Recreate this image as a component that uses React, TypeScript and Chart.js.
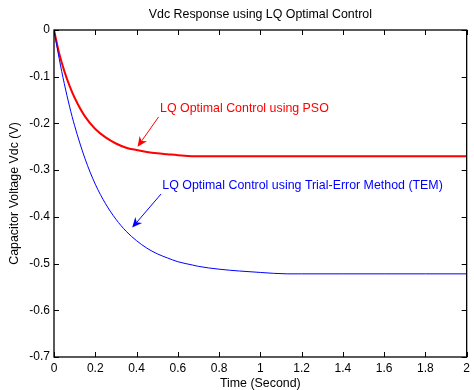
import React, { useEffect, useRef } from "react";
import { Chart, registerables } from "chart.js";

Chart.register(...registerables);

// ---- data ----
const timeSec = [0, 0.025, 0.05, 0.075, 0.1, 0.15, 0.2, 0.25, 0.3, 0.35, 0.4, 0.45, 0.5, 0.55, 0.6, 0.67, 0.7, 0.8, 0.9, 1.0, 1.13, 1.2, 1.4, 1.6, 1.8, 2.0];
const psoVdc = [0, -0.05, -0.088, -0.119, -0.145, -0.185, -0.212, -0.23, -0.243, -0.252, -0.257, -0.261, -0.264, -0.266, -0.268, -0.27, -0.27, -0.27, -0.27, -0.27, -0.27, -0.27, -0.27, -0.27, -0.27, -0.27];
const temVdc = [0, -0.061, -0.115, -0.163, -0.205, -0.275, -0.33, -0.372, -0.405, -0.431, -0.451, -0.467, -0.479, -0.488, -0.496, -0.503, -0.506, -0.512, -0.516, -0.519, -0.522, -0.522, -0.522, -0.522, -0.522, -0.522];

const xTickValues = [0, 0.2, 0.4, 0.6, 0.8, 1, 1.2, 1.4, 1.6, 1.8, 2];
const yTickValues = [0, -0.1, -0.2, -0.3, -0.4, -0.5, -0.6, -0.7];

const chartTitle = "Vdc Response using LQ Optimal Control";
const xTitle = "Time (Second)";
const yTitle = "Capacitor Voltage Vdc (V)";
const psoLabel = "LQ Optimal Control using PSO";
const temLabel = "LQ Optimal Control using Trial-Error Method (TEM)";

// annotation anchors in data units (text start, arrow tail, arrow tip)
const psoNote = { text: [0.514, -0.168], tail: [0.507, -0.186], tip: [0.405, -0.25] };
const temNote = { text: [0.525, -0.332], tail: [0.519, -0.351], tip: [0.379, -0.423] };

const FONT = "'Liberation Sans', Arial, Helvetica, sans-serif";

function fmt(v: number): string {
  return String(Number(Number(v).toFixed(2)));
}

function drawArrow(ctx: CanvasRenderingContext2D, x1: number, y1: number, x2: number, y2: number, color: string) {
  const ang = Math.atan2(y2 - y1, x2 - x1);
  const headLen = 10;
  const halfW = 4.5;
  const notch = 7;
  const bx = x2 - notch * Math.cos(ang);
  const by = y2 - notch * Math.sin(ang);
  ctx.save();
  ctx.strokeStyle = color;
  ctx.fillStyle = color;
  ctx.lineWidth = 1;
  ctx.beginPath();
  ctx.moveTo(x1, y1);
  ctx.lineTo(bx, by);
  ctx.stroke();
  const hx = x2 - headLen * Math.cos(ang);
  const hy = y2 - headLen * Math.sin(ang);
  const px = -Math.sin(ang);
  const py = Math.cos(ang);
  ctx.beginPath();
  ctx.moveTo(x2, y2);
  ctx.lineTo(hx + px * halfW, hy + py * halfW);
  ctx.lineTo(bx, by);
  ctx.lineTo(hx - px * halfW, hy - py * halfW);
  ctx.closePath();
  ctx.fill();
  ctx.restore();
}

const decorPlugin = {
  id: "decor",
  afterDraw(chart: any) {
    const { ctx, chartArea, scales } = chart;
    const xs = scales.x;
    const ys = scales.y;
    const { left, right, top, bottom } = chartArea;
    ctx.save();
    // box
    ctx.strokeStyle = "#000";
    ctx.lineWidth = 1.3;
    ctx.strokeRect(left, top, right - left, bottom - top);
    // inward ticks
    const tl = 5;
    ctx.lineWidth = 1;
    ctx.beginPath();
    for (const v of xTickValues) {
      const x = Math.round(xs.getPixelForValue(v)) + 0.5;
      ctx.moveTo(x, bottom);
      ctx.lineTo(x, bottom - tl);
      ctx.moveTo(x, top);
      ctx.lineTo(x, top + tl);
    }
    for (const v of yTickValues) {
      const y = Math.round(ys.getPixelForValue(v)) + 0.5;
      ctx.moveTo(left, y);
      ctx.lineTo(left + tl, y);
      ctx.moveTo(right, y);
      ctx.lineTo(right - tl, y);
    }
    ctx.stroke();

    // titles
    ctx.fillStyle = "#000";
    ctx.font = `12.4px ${FONT}`;
    ctx.textAlign = "center";
    ctx.textBaseline = "middle";
    const cx = (left + right) / 2;
    ctx.fillText(chartTitle, cx, 15);
    ctx.fillText(xTitle, cx, 384);
    ctx.save();
    ctx.translate(15, (top + bottom) / 2);
    ctx.rotate(-Math.PI / 2);
    ctx.fillText(yTitle, 0, 0);
    ctx.restore();

    // annotations
    const notes = [
      { n: psoNote, label: psoLabel, color: "#ff0000" },
      { n: temNote, label: temLabel, color: "#0000ff" },
    ];
    for (const { n, label, color } of notes) {
      ctx.fillStyle = color;
      ctx.textAlign = "left";
      ctx.textBaseline = "middle";
      ctx.fillText(label, xs.getPixelForValue(n.text[0]), ys.getPixelForValue(n.text[1]));
      drawArrow(
        ctx,
        xs.getPixelForValue(n.tail[0]),
        ys.getPixelForValue(n.tail[1]),
        xs.getPixelForValue(n.tip[0]),
        ys.getPixelForValue(n.tip[1]),
        color
      );
    }
    ctx.restore();
  },
};

export default function App() {
  const ref = useRef<HTMLCanvasElement | null>(null);
  useEffect(() => {
    if (!ref.current) return;
    Chart.defaults.font.family = FONT;
    Chart.defaults.font.size = 12;
    Chart.defaults.color = "#000";
    const chart = new Chart(ref.current, {
      type: "line",
      data: {
        datasets: [
          {
            label: "TEM",
            data: timeSec.map((t, i) => ({ x: t, y: temVdc[i] })),
            borderColor: "#0000ff",
            borderWidth: 1,
            pointRadius: 0,
            cubicInterpolationMode: "monotone",
          },
          {
            label: "PSO",
            data: timeSec.map((t, i) => ({ x: t, y: psoVdc[i] })),
            borderColor: "#ff0000",
            borderWidth: 2,
            pointRadius: 0,
            cubicInterpolationMode: "monotone",
          },
        ],
      },
      options: {
        animation: false,
        responsive: false,
        devicePixelRatio: 1,
        layout: { padding: { top: 30, right: 5, left: 0, bottom: 0 } },
        plugins: { legend: { display: false }, title: { display: false }, tooltip: { enabled: false } },
        scales: {
          x: {
            type: "linear",
            min: 0,
            max: 2,
            afterBuildTicks: (s: any) => {
              s.ticks = xTickValues.map((v) => ({ value: v }));
            },
            afterFit: (s: any) => {
              s.height = 33;
            },
            ticks: { padding: 4, maxRotation: 0, autoSkip: false, callback: (v: any) => fmt(v), font: { size: 12 } },
            grid: { display: false, drawTicks: false },
            border: { display: false },
          },
          y: {
            type: "linear",
            min: -0.7,
            max: 0,
            afterBuildTicks: (s: any) => {
              s.ticks = yTickValues.map((v) => ({ value: v }));
            },
            afterFit: (s: any) => {
              s.width = 54;
            },
            ticks: { padding: 4, autoSkip: false, callback: (v: any) => fmt(v), font: { size: 12 } },
            grid: { display: false, drawTicks: false },
            border: { display: false },
          },
        },
      },
      plugins: [decorPlugin],
    } as any);
    return () => chart.destroy();
  }, []);
  return (
    <div style={{ position: "fixed", left: 0, top: 0, width: 474, height: 390, background: "#fff" }}>
      <canvas ref={ref} width={474} height={390} />
    </div>
  );
}
